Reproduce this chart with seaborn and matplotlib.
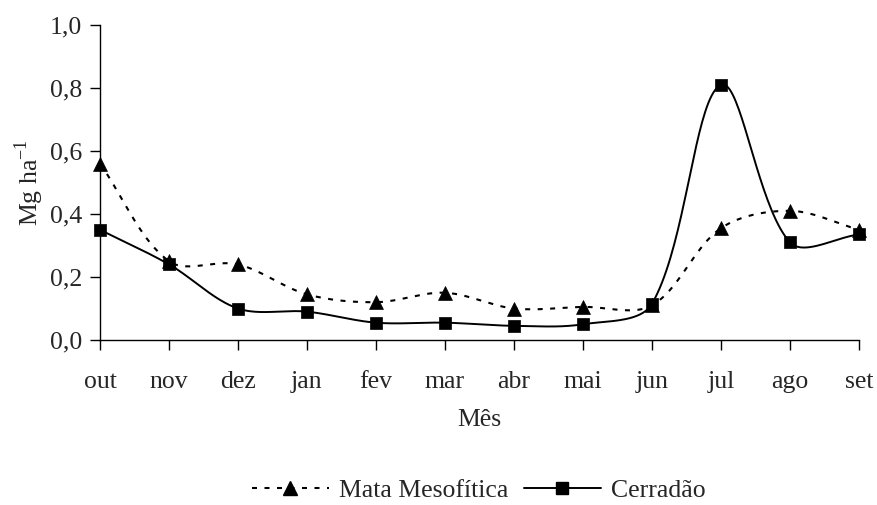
import numpy as np
import pandas as pd
import matplotlib
matplotlib.use("Agg")
import matplotlib.pyplot as plt
from matplotlib.lines import Line2D
import seaborn as sns

meses = ["out", "nov", "dez", "jan", "fev", "mar", "abr", "mai", "jun", "jul", "ago", "set"]
mata = [0.56, 0.25, 0.24, 0.145, 0.12, 0.15, 0.10, 0.105, 0.11, 0.355, 0.41, 0.35]
cerradao = [0.35, 0.24, 0.10, 0.09, 0.055, 0.055, 0.045, 0.05, 0.115, 0.81, 0.31, 0.335]

# on-screen size of one category step and of one unit on the y axis (pixels)
SX, SY = 69.0, 315.0


def smooth(x, y, n=40):
    """Bezier smoothing through the points; tangents are split in proportion
    to the on-screen length of the neighbouring segments."""
    P = np.column_stack([np.asarray(x, float) * SX, np.asarray(y, float) * SY])
    m = len(P)
    cin = np.zeros_like(P)
    cout = np.zeros_like(P)
    for i in range(m):
        prev = P[max(i - 1, 0)]
        nxt = P[min(i + 1, m - 1)]
        T = nxt - prev
        dp = np.linalg.norm(P[i] - prev)
        dn = np.linalg.norm(nxt - P[i])
        tot = dp + dn if dp + dn > 0 else 1.0
        cin[i] = P[i] - T * dp / tot / 3.0
        cout[i] = P[i] + T * dn / tot / 3.0
    t = np.linspace(0, 1, n)[:, None]
    segs = []
    for i in range(m - 1):
        b = (1 - t) ** 3 * P[i] + 3 * (1 - t) ** 2 * t * cout[i] \
            + 3 * (1 - t) * t ** 2 * cin[i + 1] + t ** 3 * P[i + 1]
        segs.append(b if i == 0 else b[1:])
    B = np.vstack(segs)
    return B[:, 0] / SX, B[:, 1] / SY


sns.set_style("ticks")
plt.rcParams["font.family"] = ["Liberation Serif", "DejaVu Serif"]
plt.rcParams["mathtext.fontset"] = "custom"
plt.rcParams["mathtext.rm"] = "Liberation Serif"

FS = 18.5
DASH = (0, (2.4, 3.6))

fig = plt.figure(figsize=(8.77, 5.05), dpi=100)
ax = fig.add_axes([100 / 877, 165 / 505, 759 / 877, 315 / 505])

pos = np.arange(len(meses))
df = pd.DataFrame({"pos": pos, "mata": mata, "cerradao": cerradao})

mx, my = smooth(pos, mata)
cx, cy = smooth(pos, cerradao)
sns.lineplot(x=mx, y=my, ax=ax, color="black", lw=1.5, linestyle=DASH,
             sort=False, estimator=None)
sns.lineplot(x=cx, y=cy, ax=ax, color="black", lw=1.4, sort=False, estimator=None)
sns.scatterplot(data=df, x="pos", y="mata", ax=ax, marker="^", s=100, color="black",
                edgecolor="black", linewidth=0.5, zorder=5, clip_on=False)
sns.scatterplot(data=df, x="pos", y="cerradao", ax=ax, marker="s", s=70, color="black",
                edgecolor="black", linewidth=0.5, zorder=5, clip_on=False)

ax.set_xlim(0, len(meses) - 1)
ax.set_ylim(0, 1.0)
ax.set_xticks(pos)
ax.set_xticklabels(meses)
yt = np.arange(0, 1.01, 0.2)
ax.set_yticks(yt)
ax.set_yticklabels([f"{v:.1f}".replace(".", ",") for v in yt])
ax.tick_params(axis="both", labelsize=FS, length=7, width=1, color="black")
ax.tick_params(axis="y", pad=6)
ax.tick_params(axis="x", pad=15)
for side in ["top", "right"]:
    ax.spines[side].set_visible(False)
for side in ["left", "bottom"]:
    ax.spines[side].set_linewidth(1)
    ax.spines[side].set_color("black")

ax.set_xlabel("Mês", fontsize=FS, labelpad=12)
ax.set_ylabel("Mg ha$^{\\mathregular{-1}}$", fontsize=FS, labelpad=3)

handles = [
    Line2D([], [], color="black", lw=1.5, linestyle=DASH, marker="^", markersize=10),
    Line2D([], [], color="black", lw=1.4, marker="s", markersize=8.4),
]
fig.legend(handles, ["Mata Mesofítica", "Cerradão"], loc="center", bbox_to_anchor=(0.546, 0.029),
           ncol=2, frameon=False, handlelength=3.0, columnspacing=0.6, handletextpad=0.4,
           borderpad=0, prop={"family": "Liberation Serif", "size": FS})

fig.savefig("out.png", dpi=100)
